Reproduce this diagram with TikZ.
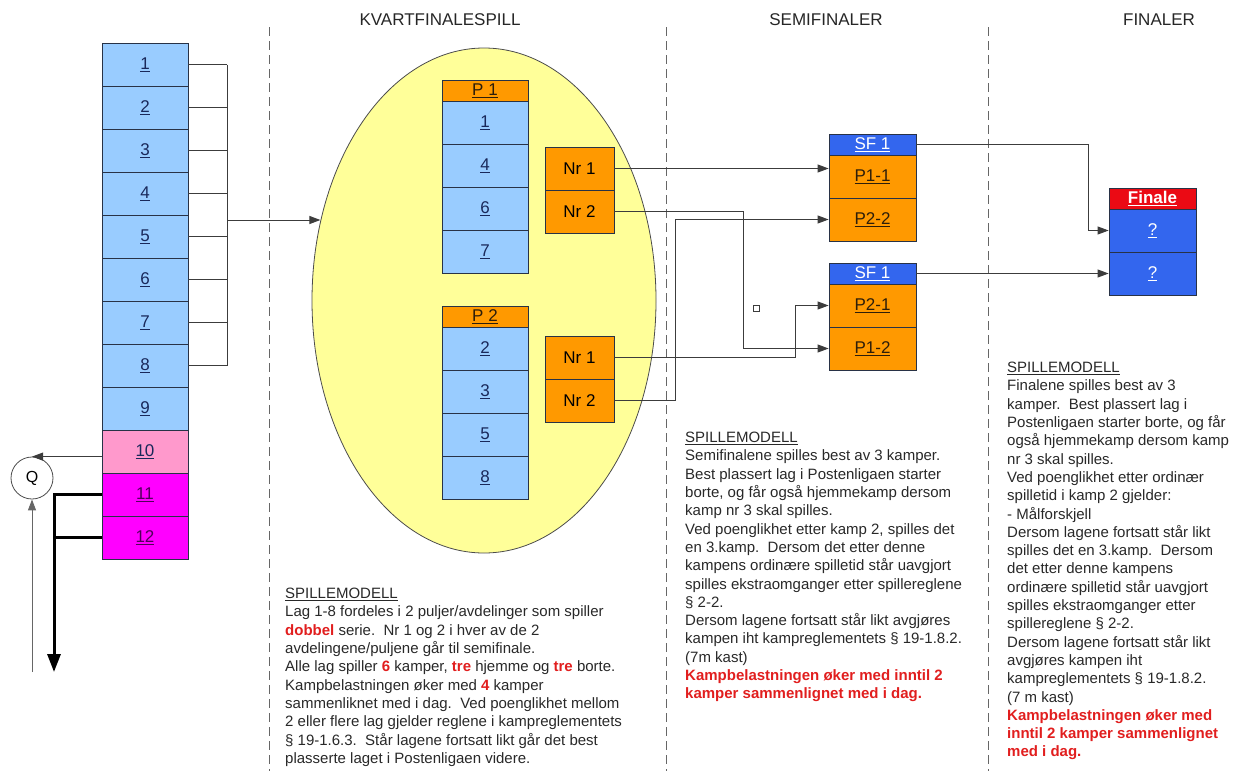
\documentclass[tikz,border=0pt]{standalone}
\usepackage{fontspec}
\setmainfont{Liberation Sans}
\usetikzlibrary{arrows.meta,shapes.geometric,calc}
\definecolor{lblue}{RGB}{153,204,255}
\definecolor{pinkc}{RGB}{255,153,204}
\definecolor{magc}{RGB}{255,0,255}
\definecolor{orng}{RGB}{255,153,0}
\definecolor{hblue}{RGB}{51,102,238}
\definecolor{hred}{RGB}{235,10,20}
\definecolor{ylw}{RGB}{255,255,153}
\definecolor{bordc}{RGB}{40,50,70}
\definecolor{navyt}{RGB}{25,40,90}
\definecolor{purpt}{RGB}{80,0,90}
\definecolor{darkt}{RGB}{45,30,10}
\definecolor{redt}{RGB}{225,30,30}
\definecolor{bodyt}{RGB}{40,40,40}
\definecolor{connc}{RGB}{60,60,60}
\newcommand\rb[1]{\textcolor{redt}{\textbf{#1}}}
\begin{document}
\begin{tikzpicture}[x=1pt,y=-1pt,
  cellbase/.style={draw=bordc, line width=0.8pt, minimum width=86pt, minimum height=43pt, inner sep=0pt, font=\fontsize{17}{19}\selectfont},
  lb/.style={cellbase, fill=lblue, text=navyt},
  pk/.style={cellbase, fill=pinkc, text=navyt},
  mg/.style={cellbase, fill=magc, text=purpt},
  orc/.style={cellbase, fill=orng, text=darkt, minimum width=87pt},
  hdr/.style={cellbase, minimum height=21pt},
  sfh/.style={hdr, fill=hblue, text=white, minimum width=87pt},
  fq/.style={cellbase, fill=hblue, text=white, minimum width=87pt},
  nrbox/.style={cellbase, fill=orng, text=black, minimum width=69pt},
  conn/.style={draw=connc, line width=1pt},
  arr/.style={conn, -{Triangle[length=11pt,width=8pt]}},
  tk/.style={draw=black, line width=3pt},
  dashline/.style={draw=gray!80!black, line width=1pt, dash pattern=on 9pt off 5pt},
  title/.style={font=\fontsize{17}{19}\selectfont, text=black!85},
  txt/.style={font=\fontsize{15}{18.3}\selectfont, text=bodyt, align=left, inner sep=0pt, anchor=north west}
]
\useasboundingbox (0,0) rectangle (1233,771);

% dashed separators
\coordinate (d1t) at (269,27); \coordinate (d1b) at (269,771);
\coordinate (d2t) at (666,27); \coordinate (d2b) at (666,771);
\coordinate (d3t) at (988,27); \coordinate (d3b) at (988,771);
\draw[dashline] (d1t) -- (d1b);
\draw[dashline] (d2t) -- (d2b);
\draw[dashline] (d3t) -- (d3b);

% titles
\node[title] (ti1) at (440,20) {KVARTFINALESPILL};
\node[title] (ti2) at (826,20) {SEMIFINALER};
\node[title] (ti3) at (1159,20) {FINALER};

% left column
\foreach \i in {1,...,9} {
  \node[lb] (r\i) at (145,{64.5+43*(\i-1)}) {\underline{\i}};
}
\node[pk] (r10) at (145,451.5) {\underline{10}};
\node[mg] (r11) at (145,494.5) {\underline{11}};
\node[mg] (r12) at (145,537.5) {\underline{12}};

% ellipse
\node[ellipse, draw=black!70, line width=0.8pt, fill=ylw, minimum width=344pt, minimum height=505pt, inner sep=0pt] (ell) at (484,300.5) {};

% bracket
\coordinate (brk) at (227,220);
\foreach \i in {1,...,8} {
  \draw[conn] (r\i.east) -- (r\i.east -| brk);
}
\draw[conn] (r1.east -| brk) -- (r8.east -| brk);
\draw[arr] (brk) -- (brk -| ell.154);

% pool 1
\node[hdr, fill=orng, text=darkt] (p1h) at (485,90.5) {\underline{P 1}};
\node[lb] (p1a) at (485,122.5) {\underline{1}};
\node[lb] (p1b) at (485,165.5) {\underline{4}};
\node[lb] (p1c) at (485,208.5) {\underline{6}};
\node[lb] (p1d) at (485,251.5) {\underline{7}};
% pool 2
\node[hdr, fill=orng, text=darkt] (p2h) at (485,316.5) {\underline{P 2}};
\node[lb] (p2a) at (485,348.5) {\underline{2}};
\node[lb] (p2b) at (485,391.5) {\underline{3}};
\node[lb] (p2c) at (485,434.5) {\underline{5}};
\node[lb] (p2d) at (485,477.5) {\underline{8}};

% Nr boxes
\node[nrbox] (a1) at (579.5,168.5) {Nr 1};
\node[nrbox] (a2) at (579.5,211.5) {Nr 2};
\node[nrbox] (b1) at (579.5,357.5) {Nr 1};
\node[nrbox] (b2) at (579.5,400.5) {Nr 2};

% semifinals
\node[sfh] (h1) at (872.5,144.5) {\underline{SF 1}};
\node[orc] (s11) at (872.5,176.5) {\underline{P1-1}};
\node[orc] (s22) at (872.5,219.5) {\underline{P2-2}};
\node[sfh] (h2) at (872.5,273.5) {\underline{SF 1}};
\node[orc] (s21) at (872.5,305.5) {\underline{P2-1}};
\node[orc] (s12) at (872.5,348.5) {\underline{P1-2}};

% final
\node[hdr, fill=hred, text=white, minimum width=87pt, font=\fontsize{17}{19}\selectfont\bfseries] (fh) at (1152.5,198.5) {\underline{Finale}};
\node[fq] (q1) at (1152.5,230.5) {\underline{?}};
\node[fq] (q2) at (1152.5,273.5) {\underline{?}};

% small square
\node[draw=connc, line width=0.8pt, minimum size=6pt, inner sep=0pt] (sq) at (756,308) {};

% connectors
\coordinate (k1) at (743,0);
\coordinate (k2) at (795,0);
\coordinate (k3) at (675,0);
\coordinate (k4) at (1088,0);
\coordinate (k5) at (54,0);
\draw[arr] (a1.east) -- (a1.east -| s11.west);
\draw[arr] (a2.east) -- (a2.east -| k1) |- (s12.west);
\draw[arr] (b1.east) -- (b1.east -| k2) |- (s21.west);
\draw[arr] (b2.east) -- (b2.east -| k3) |- (s22.west);
\draw[arr] (h1.east) -- (h1.east -| k4) |- (q1.west);
\draw[arr] (h2.east) -- (q2.west);

% Q
\node[circle, draw=black!70, line width=0.8pt, minimum size=42pt, inner sep=0pt, font=\fontsize{16}{18}\selectfont] (Q) at (32,478) {Q};
\draw[arr] (Q.north -| r10.west) -- (Q.north);
\coordinate (qin) at (32,672);
\draw[arr, draw=gray!80!black] (qin) -- (Q.south);
\coordinate (kend) at (54,672);
\draw[tk, -{Triangle[length=18pt,width=13pt]}] (r11.west) -- (r11.west -| k5) -- (kend);
\draw[tk] (r12.west) -- (r12.west -| k5);

% text blocks
\node[txt] (tx1) at (285,588) {\underline{SPILLEMODELL}\\
Lag 1-8 fordeles i 2 puljer/avdelinger som spiller\\
\rb{dobbel} serie.\ \ Nr 1 og 2 i hver av de 2\\
avdelingene/puljene går til semifinale.\\
Alle lag spiller \rb{6} kamper, \rb{tre} hjemme og \rb{tre} borte.\\
Kampbelastningen øker med \rb{4} kamper\\
sammenliknet med i dag.\ \ Ved poenglikhet mellom\\
2 eller flere lag gjelder reglene i kampreglementets\\
§ 19-1.6.3.\ \ Står lagene fortsatt likt går det best\\
plasserte laget i Postenligaen videre.};

\node[txt] (tx2) at (685,432) {\underline{SPILLEMODELL}\\
Semifinalene spilles best av 3 kamper.\\
Best plassert lag i Postenligaen starter\\
borte, og får også hjemmekamp dersom\\
kamp nr 3 skal spilles.\\
Ved poenglikhet etter kamp 2, spilles det\\
en 3.kamp.\ \ Dersom det etter denne\\
kampens ordinære spilletid står uavgjort\\
spilles ekstraomganger etter spillereglene\\
§ 2-2.\\
Dersom lagene fortsatt står likt avgjøres\\
kampen iht kampreglementets § 19-1.8.2.\\
(7m kast)\\
\rb{Kampbelastningen øker med inntil 2}\\
\rb{kamper sammenlignet med i dag.}};

\node[txt] (tx3) at (1007,362) {\underline{SPILLEMODELL}\\
Finalene spilles best av 3\\
kamper.\ \ Best plassert lag i\\
Postenligaen starter borte, og får\\
også hjemmekamp dersom kamp\\
nr 3 skal spilles.\\
Ved poenglikhet etter ordinær\\
spilletid i kamp 2 gjelder:\\
- Målforskjell\\
Dersom lagene fortsatt står likt\\
spilles det en 3.kamp.\ \ Dersom\\
det etter denne kampens\\
ordinære spilletid står uavgjort\\
spilles ekstraomganger etter\\
spillereglene § 2-2.\\
Dersom lagene fortsatt står likt\\
avgjøres kampen iht\\
kampreglementets § 19-1.8.2.\\
(7 m kast)\\
\rb{Kampbelastningen øker med}\\
\rb{inntil 2 kamper sammenlignet}\\
\rb{med i dag.}};
\end{tikzpicture}
\end{document}
